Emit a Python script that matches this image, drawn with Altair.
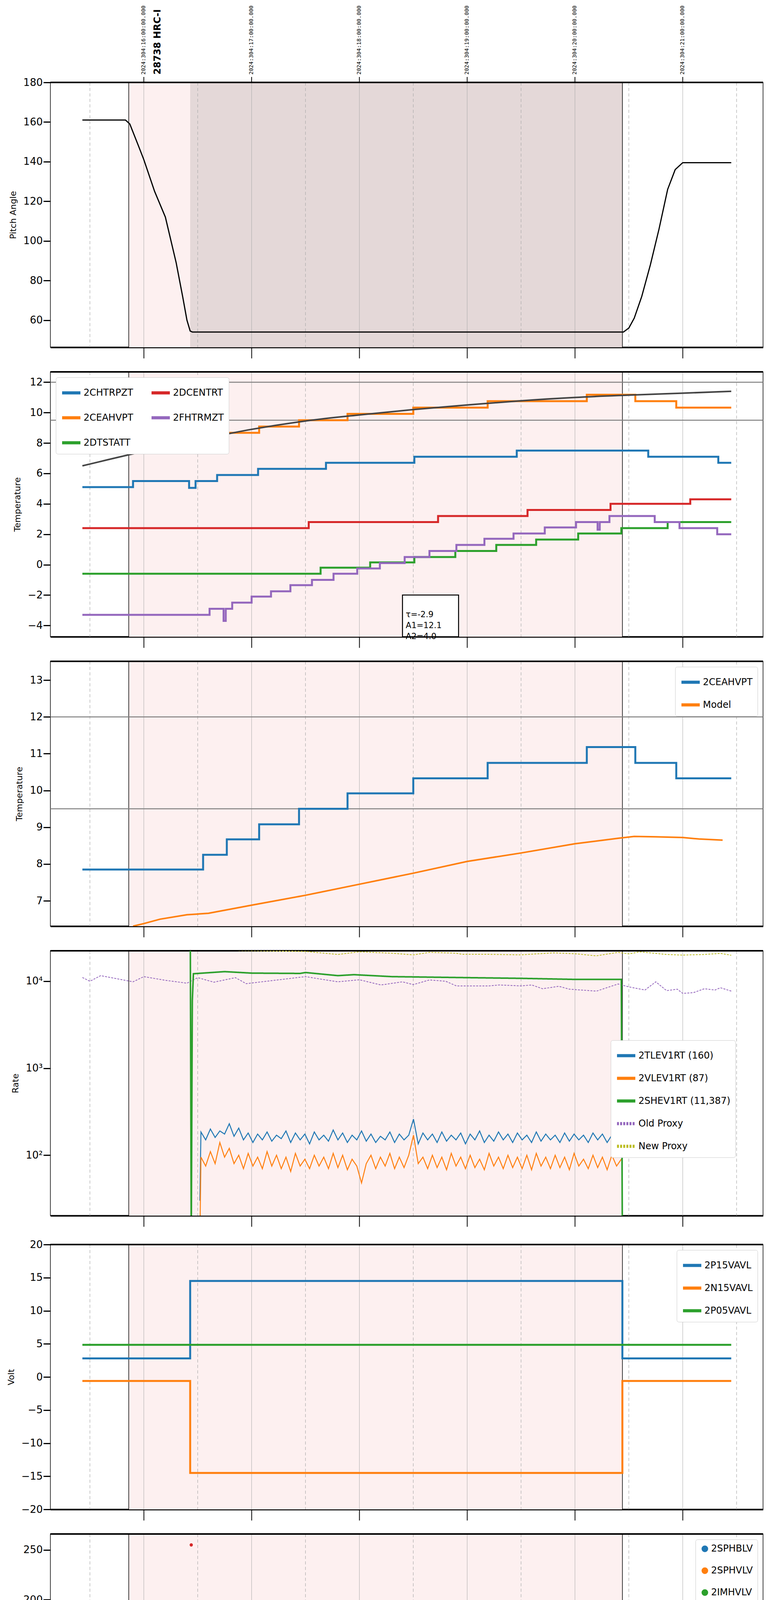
import altair as alt
import numpy as np
import pandas as pd

# ---- eixo do tempo (horas do dia 2024-10-30) ----
X_MIN, X_MAX = 11.133, 17.745
HOURS = [12, 13, 14, 15, 16, 17]
HALF_HOURS = [11.5, 12.5, 13.5, 14.5, 15.5, 16.5, 17.5]
TOP_LABELS = ["2024:304:16:00:00.000", "2024:304:17:00:00.000", "2024:304:18:00:00.000",
              "2024:304:19:00:00.000", "2024:304:20:00:00.000", "2024:304:21:00:00.000"]
OBS_START, OBS_END = 11.86, 16.44
DWELL_START = 12.43

# ---- painel 1: pitch ----
pitch_t = [11.43, 11.83, 11.87, 11.95, 12.0, 12.1, 12.2, 12.3, 12.36, 12.4, 12.43, 12.45,
           16.45, 16.5, 16.55, 16.62, 16.7, 16.78, 16.86, 16.93, 17.0, 17.45]
pitch_v = [161, 161, 159, 148, 141, 125, 112, 89, 72, 60, 54.5, 54,
           54, 56, 61, 72, 88, 106, 126, 136, 139.5, 139.5]

# ---- painel 2: temperaturas ----
chtr_t = [11.43, 11.90, 12.42, 12.48, 12.68, 13.06, 13.69, 14.51, 15.46, 16.68, 17.33, 17.45]
chtr_v = [5.1, 5.5, 5.05, 5.5, 5.9, 6.3, 6.7, 7.1, 7.5, 7.1, 6.7, 6.7]
ceah_t = [11.43, 12.55, 12.77, 13.07, 13.44, 13.89, 14.50, 15.19, 16.11, 16.56, 16.94, 17.45]
ceah_v = [7.85, 8.25, 8.67, 9.08, 9.5, 9.92, 10.33, 10.75, 11.18, 10.75, 10.33, 10.33]
dtst_t = [11.43, 13.64, 14.10, 14.51, 14.89, 15.27, 15.64, 16.03, 16.43, 16.86, 17.45]
dtst_v = [-0.6, -0.2, 0.15, 0.5, 0.9, 1.3, 1.65, 2.05, 2.4, 2.8, 2.8]
dcen_t = [11.43, 13.53, 14.73, 15.56, 16.33, 17.07, 17.45]
dcen_v = [2.4, 2.8, 3.2, 3.6, 4.0, 4.3, 4.3]
fhtr_t = [11.43, 12.61, 12.74, 12.76, 12.82, 13.0, 13.18, 13.36, 13.56, 13.76, 13.98, 14.19, 14.42,
          14.65, 14.90, 15.16, 15.43, 15.72, 16.01, 16.21, 16.23, 16.32, 16.74, 16.97, 17.32, 17.45]
fhtr_v = [-3.3, -2.9, -3.7, -2.9, -2.5, -2.1, -1.75, -1.35, -1.0, -0.6, -0.25, 0.1, 0.5,
          0.9, 1.3, 1.7, 2.05, 2.45, 2.8, 2.3, 2.8, 3.2, 2.8, 2.4, 2.0, 2.0]
fit_t = [11.43, 12, 12.5, 13, 13.5, 14, 14.5, 15, 15.5, 16, 16.5, 17, 17.45]
fit_v = [6.5, 7.45, 8.2, 8.9, 9.45, 9.85, 10.2, 10.5, 10.78, 11.0, 11.15, 11.28, 11.4]
LIMITS_2 = [12, 9.5]
FIT_TEXT = ["τ=-2.9", "A1=12.1", "A2=4.0"]

# ---- painel 3: modelo ----
model_t = [11.90, 12.0, 12.15, 12.4, 12.6, 13.0, 13.5, 14.0, 14.5, 15.0, 15.5, 16.0, 16.4,
           16.55, 16.75, 17.0, 17.15, 17.37]
model_v = [6.31, 6.38, 6.5, 6.62, 6.66, 6.88, 7.15, 7.45, 7.75, 8.07, 8.3, 8.55, 8.7,
           8.75, 8.74, 8.72, 8.68, 8.65]

# ---- painel 4: taxas ----
rate_start, rate_end = 12.53, 16.43
tlev_v = [185, 150, 200, 160, 190, 175, 230, 165, 205, 150, 180, 140, 175, 150, 185, 145, 170, 155,
          190, 140, 180, 150, 175, 135, 185, 150, 170, 145, 195, 150, 180, 140, 170, 150, 190, 145,
          175, 140, 165, 150, 185, 140, 175, 150, 170, 260, 135, 180, 150, 175, 140, 185, 145, 170,
          150, 180, 135, 175, 150, 190, 140, 170, 145, 185, 150, 175, 140, 180, 150, 170, 140, 185,
          145, 175, 150, 170, 140, 180, 145, 175, 150, 170, 140, 180, 150, 175, 140, 170, 145, 180]
vlev_v = [95, 75, 110, 80, 140, 95, 120, 80, 100, 70, 105, 75, 95, 70, 110, 75, 100, 70,
          95, 65, 105, 75, 90, 70, 100, 75, 95, 70, 105, 72, 100, 68, 90, 75, 48, 80,
          100, 70, 95, 75, 105, 70, 95, 72, 100, 170, 80, 95, 70, 100, 72, 95, 68, 105,
          75, 95, 70, 100, 72, 90, 68, 105, 75, 95, 70, 100, 72, 95, 70, 100, 68, 105,
          75, 95, 70, 100, 72, 95, 68, 105, 75, 90, 70, 100, 72, 95, 68, 100, 75, 90]
shev_t = [12.43, 12.44, 12.45, 12.46, 12.75, 13.0, 13.45, 13.5, 13.8, 13.95, 14.3, 15.0, 15.5,
          16.0, 16.43, 16.44]
shev_v = [100000, 10, 6000, 12200, 12900, 12400, 12300, 12600, 11600, 11900, 11300, 11000, 10800,
          10500, 10500, 10]
old_t = [11.43, 11.5, 11.6, 11.9, 12.0, 12.2, 12.4, 12.5, 12.65, 12.85, 12.95, 13.5, 13.8, 14.0,
         14.2, 14.4, 14.5, 14.65, 14.8, 14.9, 15.2, 15.3, 15.5, 15.6, 15.7, 15.85, 15.95, 16.2,
         16.4, 16.5, 16.65, 16.75, 16.85, 16.95, 17.0, 17.1, 17.2, 17.3, 17.35, 17.45]
old_v = [11040, 10000, 11600, 9850, 11300, 10250, 9500, 11000, 9750, 11000, 9380, 11300, 9850, 10400,
         9060, 9850, 9150, 10350, 10000, 8840, 8840, 9060, 8840, 9060, 8200, 8750, 8100, 7700,
         9300, 8620, 7930, 9850, 7800, 8100, 7250, 7400, 8200, 7930, 8420, 7700]
new_t = [12.5, 12.9, 13.5, 13.8, 14.0, 14.3, 14.5, 14.65, 14.9, 14.95, 15.2, 15.5, 15.8, 16.0,
         16.2, 16.4, 16.5, 16.6, 16.75, 16.85, 17.0, 17.2, 17.35, 17.45]
new_v = [24000, 22500, 22000, 20300, 21800, 21000, 20100, 21500, 21000, 20400, 20400, 20100, 21200,
         20700, 19600, 21500, 20600, 21800, 20900, 20300, 20000, 20300, 20900, 19900]

# ---- painel 5: tensões ----
volt_t = [11.43, 12.43, 16.44, 17.45]
p15_v = [2.8, 14.5, 2.8, 2.8]
n15_v = [-0.6, -14.5, -0.6, -0.6]
p05_v = [4.85, 4.85, 4.85, 4.85]

# ---- painel 6: HV ----
imhb_t = [12.44, 12.48, 12.48, 12.48, 12.49, 12.49, 12.50, 12.51, 12.52, 12.53]
imhb_v = [255, 127, 126, 119, 106, 105, 101, 97, 93, 89]
imhv_t = [12.48, 12.49, 12.50, 12.51, 12.52, 12.53]
imhv_v = [100, 96, 91, 86, 82, 79]
hv_plateau_t = [12.54, 16.44]
imhb_plateau, imhv_plateau = 85.5, 79

# ---- painel 7: detector ----
spin_t = [12.45, 13.37, 14.93, 16.21, 16.23, 16.37, 16.41]
spin_v = [4.15, 4.65, 5.15, 5.7, 5.15, 5.65, 5.65]
sphv_t = [12.44, 12.45, 12.90, 13.32, 13.71, 14.15, 14.19, 14.21, 14.65, 14.76, 14.78, 15.22, 15.87, 16.43]
sphv_v = [15.3, 16.0, 16.35, 16.7, 17.05, 17.4, 17.0, 17.4, 17.8, 17.35, 17.8, 18.15, 18.5, 18.5]
imin_t = [12.45, 13.48, 14.53, 15.52, 16.41, 16.42]
imin_v = [2.2, 2.7, 3.15, 3.65, 4.15, 4.15]
imhva_t = [12.44, 12.441, 12.59, 12.71, 12.81, 12.92, 13.04, 13.18, 13.34, 13.54, 13.77, 14.04,
           14.40, 14.85, 15.34, 16.01, 16.43, 16.44, 16.441, 16.442]
imhva_v = [-1, 15.3, 15.65, 16.0, 16.3, 16.7, 17.05, 17.4, 17.8, 18.15, 18.5, 18.85,
           19.2, 19.55, 19.9, 20.3, 20.3, 25, -1, -1]

# ---- painel 8: FEA ----
frad_t = [11.43, 12.07, 12.14, 12.20, 12.31, 12.39, 12.47, 12.87, 13.13, 13.36, 13.58, 13.83, 14.06,
          14.32, 14.58, 14.87, 15.16, 15.47, 15.79, 16.13, 16.49, 16.52, 16.75, 17.16, 17.45]
frad_v = [-5.2, -4.8, -4.45, -4.05, -4.45, -4.8, -5.2, -4.8, -4.4, -4.0, -3.65, -3.25, -2.85,
          -2.5, -2.1, -1.75, -1.35, -0.95, -0.6, -0.2, 0.15, -0.2, -0.6, -0.2, -0.2]
fepr_t = [12.44, 12.45, 12.51, 12.54, 12.60, 12.67, 12.77, 12.88, 13.02, 13.19, 13.36, 13.57, 13.78,
          14.01, 14.26, 14.53, 14.81, 15.12, 15.44, 15.80, 16.17, 16.43]
fepr_v = [-4.0, -3.55, -3.1, -2.7, -2.25, -1.85, -1.4, -0.95, -0.5, -0.05, 0.35, 0.8, 1.25,
          1.7, 2.2, 2.65, 3.15, 3.65, 4.15, 4.65, 5.3, 5.3]
fe00_t = [12.44, 12.441, 12.60, 12.72, 12.83, 12.95, 13.07, 13.20, 13.34, 13.47, 13.59, 13.74, 13.93,
          14.10, 14.28, 14.46, 14.64, 14.85, 15.05, 15.26, 15.48, 15.70, 15.93, 16.17, 16.42, 16.44,
          16.441, 16.442]
fe00_v = [-7, -4.0, -3.65, -3.3, -2.95, -2.6, -2.25, -1.95, -1.6, -1.3, -0.95, -0.65, -0.3,
          0.0, 0.35, 0.7, 1.0, 1.35, 1.65, 2.0, 2.3, 2.6, 2.95, 3.25, 3.6, 7, -7, -7]

BLUE, ORANGE, GREEN, RED, PURPLE, OLIVE = "#1f77b4", "#ff7f0e", "#2ca02c", "#d62728", "#9467bd", "#bcbd22"
W, H = 1825, 678
FONT = "DejaVu Sans"
XSCALE = alt.Scale(domain=[X_MIN, X_MAX], nice=False, zero=False)


def series(pairs):
    rows = []
    for name, t, v in pairs:
        rows += [{"t": a, "v": b, "s": name} for a, b in zip(t, v)]
    return pd.DataFrame(rows)


def xenc(bottom=False):
    # todas as camadas de um painel usam o mesmo eixo (axis=None numa camada apaga o eixo)
    if bottom:
        axis = alt.Axis(values=HOURS, labelExpr="datum.value + 'h'", labelFontSize=29, labelPadding=30,
                        tickSize=28, tickWidth=2, domainWidth=4, domainColor="black", tickColor="black",
                        title="2024-10-30 (304)", titleFontSize=30, titlePadding=18,
                        titleFontWeight="normal", grid=False)
    else:
        axis = alt.Axis(values=HOURS, labels=False, tickSize=28, tickWidth=2, domainWidth=4,
                        domainColor="black", tickColor="black", title=None, grid=False)
    return alt.X("t:Q", scale=XSCALE, axis=axis)


def background(bx, dwell=False):
    layers = [alt.Chart(pd.DataFrame({"t": [OBS_START], "t2": [OBS_END]})).mark_rect(color="#fdf0f0")
              .encode(x=bx, x2="t2:Q")]
    if dwell:
        layers.append(alt.Chart(pd.DataFrame({"t": [DWELL_START], "t2": [OBS_END]}))
                      .mark_rect(color="#e4d8d8").encode(x=bx, x2="t2:Q"))
    layers.append(alt.Chart(pd.DataFrame({"t": HOURS})).mark_rule(color="#aaaaaa", strokeWidth=1)
                  .encode(x=bx))
    layers.append(alt.Chart(pd.DataFrame({"t": HALF_HOURS})).mark_rule(color="#aaaaaa", strokeWidth=1.2,
                                                                       strokeDash=[8, 6]).encode(x=bx))
    layers.append(alt.Chart(pd.DataFrame({"t": [OBS_START, OBS_END]})).mark_rule(color="black", strokeWidth=1.5)
                  .encode(x=bx))
    layers.append(alt.Chart(pd.DataFrame({"t": [X_MIN]})).mark_rule(color="black", strokeWidth=4)
                  .encode(x=alt.value(0), x2=alt.value(W), y=alt.value(0)))
    return layers


def yenc(title, domain, values, fmt=None, log=False, expr=None):
    ax = dict(values=values, title=title, titleFont=FONT, titleFontSize=22, titleFontWeight="normal",
              labelFontSize=26, tickSize=18, tickWidth=3, tickColor="black", domain=False, grid=False,
              titlePadding=14)
    if fmt:
        ax["format"] = fmt
    if expr:
        ax["labelExpr"] = expr
    sc = alt.Scale(domain=domain, nice=False, zero=False, type="log" if log else "linear")
    return alt.Y("v:Q", scale=sc, axis=alt.Axis(**ax))


def color(names, cols, **leg):
    return alt.Color("s:N", scale=alt.Scale(domain=names, range=cols),
                     legend=alt.Legend(title=None, labelLimit=500, **leg))


def steplines(df, y, names, cols, leg, width=5, bottom=False):
    return alt.Chart(df).mark_line(interpolate="step-after", strokeWidth=width, clip=True).encode(
        x=xenc(bottom), y=y, color=color(names, cols, **leg), detail="s:N")


def finish(layers):
    return alt.layer(*layers).resolve_scale(y="shared").properties(width=W, height=H)


X = xenc()
XB = xenc(bottom=True)

# ---- painel 1 ----
y1 = yenc("Pitch Angle", [46.3, 180], [60, 80, 100, 120, 140, 160, 180])
p1_df = pd.DataFrame({"t": pitch_t, "v": pitch_v})
p1_line = alt.Chart(p1_df).mark_line(color="black", strokeWidth=3, clip=True).encode(x=X, y=y1)
tl_df = pd.DataFrame({"t": HOURS, "lab": TOP_LABELS})
top_text = alt.Chart(tl_df).mark_text(angle=270, align="left", baseline="middle", fontSize=14,
                                      font="DejaVu Sans Mono").encode(x=X, y=alt.value(-20), text="lab:N")
top_ticks = alt.Chart(tl_df).mark_rule(color="black", strokeWidth=2).encode(
    x=X, y=alt.value(-14), y2=alt.value(0))
top_title = alt.Chart(pd.DataFrame({"t": [12.13], "lab": ["28738 HRC-I"]})).mark_text(
    angle=270, align="left", baseline="middle", fontSize=24, fontWeight="bold", font=FONT
).encode(x=X, y=alt.value(-20), text="lab:N")
panel1 = finish(background(X, dwell=True) + [p1_line, top_ticks, top_text, top_title])

# ---- painel 2 ----
y2 = yenc("Temperature", [-4.74, 12.68], [-4, -2, 0, 2, 4, 6, 8, 10, 12])
names2 = ["2CHTRPZT", "2CEAHVPT", "2DTSTATT", "2DCENTRT", "2FHTRMZT"]
p2_df = series([("2CHTRPZT", chtr_t, chtr_v), ("2CEAHVPT", ceah_t, ceah_v), ("2DTSTATT", dtst_t, dtst_v),
                ("2DCENTRT", dcen_t, dcen_v), ("2FHTRMZT", fhtr_t, fhtr_v)])
p2_lim = alt.Chart(pd.DataFrame({"v": LIMITS_2})).mark_rule(color="#808080", strokeWidth=2.5).encode(y=y2)
p2_fit = alt.Chart(pd.DataFrame({"t": fit_t, "v": fit_v})).mark_line(
    color="#444444", strokeWidth=4, interpolate="monotone").encode(x=X, y=y2)
p2_lines = steplines(p2_df, y2, names2, [BLUE, ORANGE, GREEN, RED, PURPLE],
                     dict(orient="top-left", columns=2, columnPadding=30, rowPadding=20))
box = alt.Chart(pd.DataFrame({"t": [14.40], "t2": [14.92], "v": [-2.0], "v2": [-4.74]})).mark_rect(
    fill="white", stroke="black", strokeWidth=2.5).encode(x=X, x2="t2:Q", y=y2, y2="v2:Q")
box_text = alt.Chart(pd.DataFrame({"t": [14.43], "v": [-3.3], "lab": ["\n".join(FIT_TEXT)]})).mark_text(
    align="left", baseline="middle", fontSize=21, font=FONT, lineBreak="\n", lineHeight=28
).encode(x=X, y=y2, text="lab:N")
panel2 = finish(background(X) + [p2_lim, p2_lines, p2_fit, box, box_text])

# ---- painel 3 ----
y3 = yenc("Temperature", [6.31, 13.51], [7, 8, 9, 10, 11, 12, 13])
names3 = ["2CEAHVPT", "Model"]
p3_lim = alt.Chart(pd.DataFrame({"v": LIMITS_2})).mark_rule(color="#808080", strokeWidth=2.5).encode(y=y3)
p3_steps = steplines(series([("2CEAHVPT", ceah_t, ceah_v)]), y3, names3, [BLUE, ORANGE],
                     dict(orient="top-right"))
p3_model = alt.Chart(series([("Model", model_t, model_v)])).mark_line(strokeWidth=4, clip=True).encode(
    x=X, y=y3, color=color(names3, [BLUE, ORANGE], orient="top-right"))
panel3 = finish(background(X) + [p3_lim, p3_steps, p3_model])

# ---- painel 4 ----
y4 = yenc("Rate", [20.2, 22400], [100, 1000, 10000], log=True,
          expr="datum.value == 100 ? '10²' : datum.value == 1000 ? '10³' : '10⁴'")
names4 = ["2TLEV1RT (160)", "2VLEV1RT (87)", "2SHEV1RT (11,387)", "Old Proxy", "New Proxy"]
cols4 = [BLUE, ORANGE, GREEN, PURPLE, OLIVE]
tl_t = list(np.linspace(rate_start, rate_end, len(tlev_v)))
vl_t = list(np.linspace(rate_start, rate_end, len(vlev_v)))
leg4 = dict(orient="none", legendX=1435, legendY=229)
dash4 = alt.StrokeDash("s:N", scale=alt.Scale(domain=names4, range=[[1, 0], [1, 0], [1, 0], [5, 3], [5, 3]]),
                       legend=alt.Legend(title=None, labelLimit=500, **leg4))
noise = alt.Chart(series([("2TLEV1RT (160)", [12.52] + tl_t, [30] + tlev_v),
                          ("2VLEV1RT (87)", [12.52] + vl_t, [10] + vlev_v)])).mark_line(
    strokeWidth=2.5, clip=True).encode(x=X, y=y4, color=color(names4, cols4, **leg4), strokeDash=dash4,
                                       detail="s:N")
green4 = alt.Chart(series([("2SHEV1RT (11,387)", shev_t, shev_v)])).mark_line(strokeWidth=4, clip=True).encode(
    x=X, y=y4, color=color(names4, cols4, **leg4), strokeDash=dash4)
proxy = alt.Chart(series([("Old Proxy", old_t, old_v), ("New Proxy", new_t, new_v)])).mark_line(
    strokeWidth=2, clip=True).encode(x=X, y=y4, color=color(names4, cols4, **leg4), strokeDash=dash4,
                                     detail="s:N")
panel4 = finish(background(X) + [proxy, noise, green4])

# ---- painel 5 ----
y5 = yenc("Volt", [-20, 20], [-20, -15, -10, -5, 0, 5, 10, 15, 20])
names5 = ["2P15VAVL", "2N15VAVL", "2P05VAVL"]
p5_df = series([("2P15VAVL", volt_t, p15_v), ("2N15VAVL", volt_t, n15_v), ("2P05VAVL", volt_t, p05_v)])
panel5 = finish(background(X) + [steplines(p5_df, y5, names5, [BLUE, ORANGE, GREEN], dict(orient="top-right"))])

# ---- painel 6 ----
y6 = yenc("HV Monitor", [0, 266], [0, 50, 100, 150, 200, 250])
names6 = ["2SPHBLV", "2SPHVLV", "2IMHVLV", "2IMHBLV"]
cols6 = [BLUE, ORANGE, GREEN, RED]
leg6 = dict(orient="top-right", symbolType="circle", symbolSize=80)
p6_pts = alt.Chart(series([("2IMHVLV", imhv_t, imhv_v), ("2IMHBLV", imhb_t, imhb_v)])).mark_circle(
    size=70, opacity=1).encode(x=X, y=y6, color=color(names6, cols6, **leg6))
p6_plat = alt.Chart(series([("2IMHVLV", hv_plateau_t, [imhv_plateau] * 2),
                            ("2IMHBLV", hv_plateau_t, [imhb_plateau] * 2)])).mark_line(strokeWidth=10).encode(
    x=X, y=y6, color=color(names6, cols6, **leg6), detail="s:N")
panel6 = finish(background(X) + [p6_plat, p6_pts])

# ---- painel 7 ----
y7 = yenc("Detector Temp", [0.7, 21.5], [2.5, 5, 7.5, 10, 12.5, 15, 17.5, 20], fmt=".1f")
names7 = ["2SPINATM", "2SPHVATM", "2IMINATM", "2IMHVATM"]
p7_df = series([("2SPINATM", spin_t, spin_v), ("2SPHVATM", sphv_t, sphv_v), ("2IMINATM", imin_t, imin_v),
                ("2IMHVATM", imhva_t, imhva_v)])
panel7 = finish(background(X) + [steplines(p7_df, y7, names7, [BLUE, ORANGE, GREEN, RED],
                                           dict(orient="top-right"))])

# ---- painel 8 ----
y8 = yenc("FEA Temp", [-5.5, 5.0], [-4, -2, 0, 2, 4])
names8 = ["2FHTRMZT", "2FRADPYT", "2FEPRATM", "2FE00ATM"]
p8_df = series([("2FHTRMZT", fhtr_t, fhtr_v), ("2FRADPYT", frad_t, frad_v), ("2FEPRATM", fepr_t, fepr_v),
                ("2FE00ATM", fe00_t, fe00_v)])
minor = alt.Chart(pd.DataFrame({"t": HALF_HOURS, "lab": ["30"] * len(HALF_HOURS)})).mark_text(
    fontSize=18, font=FONT, baseline="middle").encode(x=XB, y=alt.value(H + 17), text="lab:N")
panel8 = finish(background(XB) + [steplines(p8_df, y8, names8, [BLUE, ORANGE, GREEN, RED],
                                            dict(orient="bottom-right"), bottom=True), minor])

chart = alt.vconcat(panel1, panel2, panel3, panel4, panel5, panel6, panel7, panel8, spacing=30).resolve_scale(
    y="independent", color="independent", strokeDash="independent"
).resolve_legend(color="independent", strokeDash="independent").configure_view(
    stroke="black", strokeWidth=1.5
).configure_axis(labelFont=FONT, titleFont=FONT).configure_legend(
    labelFont=FONT, labelFontSize=24, symbolType="stroke", symbolStrokeWidth=8, symbolSize=2200,
    fillColor="white", strokeColor="#cccccc", cornerRadius=5, padding=12, rowPadding=14, offset=14
).configure_text(font=FONT)

chart.save("out.html", embed_options={"renderer": "svg", "actions": False})
